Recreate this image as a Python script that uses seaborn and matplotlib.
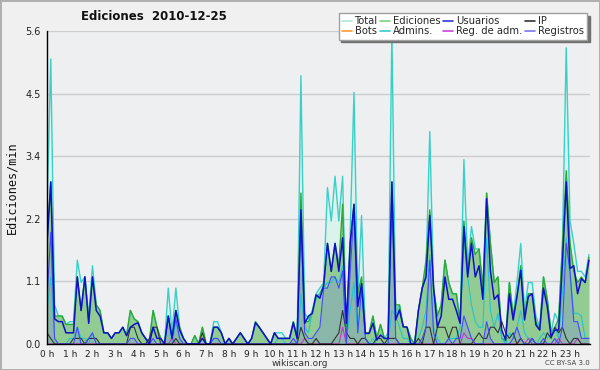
import numpy as np
import matplotlib
matplotlib.use("Agg")
import matplotlib.pyplot as plt
import seaborn as sns
from matplotlib.lines import Line2D
from matplotlib.ticker import MultipleLocator

# edits per minute, one value every 10 minutes (6 per hour, one row per hour)
total = [
    2.4, 5.1, 0.7, 0.5, 0.5, 0.35,
    0.4, 0.4, 1.5, 1.1, 1.2, 0.5,
    1.4, 0.7, 0.6, 0.2, 0.2, 0.1,
    0.2, 0.2, 0.3, 0.15, 0.6, 0.45,
    0.4, 0.2, 0.1, 0.05, 0.6, 0.3,
    0.1, 0.0, 1.0, 0.2, 1.0, 0.3,
    0.1, 0.0, 0.0, 0.15, 0.0, 0.3,
    0.0, 0.0, 0.4, 0.4, 0.2, 0.0,
    0.1, 0.0, 0.1, 0.2, 0.1, 0.0,
    0.1, 0.4, 0.3, 0.2, 0.1, 0.0,
    0.2, 0.2, 0.2, 0.1, 0.1, 0.4,
    0.1, 4.8, 0.55, 0.45, 0.6, 0.9,
    1.0, 1.1, 2.8, 2.2, 3.0, 2.2,
    3.0, 0.1, 2.0, 4.5, 0.8, 2.3,
    0.2, 0.2, 0.5, 0.1, 0.35, 0.1,
    0.2, 5.6, 0.5, 0.7, 0.3, 0.3,
    0.1, 0.0, 0.6, 1.0, 1.3, 3.8,
    1.0, 0.5, 0.7, 1.5, 1.1, 0.9,
    0.9, 0.4, 3.3, 1.4, 2.1, 1.7,
    1.7, 1.0, 2.7, 1.8, 1.1, 1.2,
    0.1, 0.1, 1.1, 0.5, 1.1, 1.8,
    0.6, 1.1, 1.1, 0.5, 0.3, 1.2,
    0.8, 0.2, 0.55, 0.4, 1.8, 5.3,
    2.2, 1.8, 1.3, 1.3, 1.2, 1.6,
]
ediciones = [
    1.8, 2.9, 0.5, 0.5, 0.5, 0.35,
    0.35, 0.35, 1.2, 0.6, 1.2, 0.4,
    1.2, 0.7, 0.6, 0.2, 0.2, 0.1,
    0.2, 0.2, 0.3, 0.15, 0.6, 0.45,
    0.4, 0.2, 0.1, 0.05, 0.6, 0.3,
    0.1, 0.0, 0.5, 0.1, 0.6, 0.3,
    0.1, 0.0, 0.0, 0.15, 0.0, 0.3,
    0.0, 0.0, 0.3, 0.3, 0.2, 0.0,
    0.1, 0.0, 0.1, 0.2, 0.1, 0.0,
    0.1, 0.4, 0.3, 0.2, 0.1, 0.0,
    0.2, 0.1, 0.1, 0.1, 0.1, 0.4,
    0.1, 2.7, 0.4, 0.4, 0.55, 0.85,
    0.9, 1.05, 1.8, 1.3, 1.8, 1.4,
    2.5, 0.1, 1.8, 2.5, 0.9, 1.2,
    0.2, 0.2, 0.5, 0.1, 0.35, 0.1,
    0.1, 2.9, 0.7, 0.7, 0.3, 0.3,
    0.1, 0.0, 0.6, 1.0, 1.5, 2.4,
    1.0, 0.5, 0.7, 1.5, 1.1, 0.9,
    0.9, 0.4, 2.2, 1.3, 1.9, 1.6,
    1.7, 1.0, 2.7, 1.8, 1.1, 1.2,
    0.1, 0.05, 1.1, 0.5, 0.85, 1.4,
    0.5, 0.9, 0.9, 0.4, 0.25, 1.2,
    0.8, 0.2, 0.3, 0.45, 1.75, 3.1,
    1.8, 1.3, 1.1, 1.2, 1.1, 1.55,
]
usuarios = [
    1.8, 2.9, 0.45, 0.4, 0.4, 0.2,
    0.2, 0.2, 1.2, 0.6, 1.2, 0.37,
    1.2, 0.6, 0.5, 0.2, 0.2, 0.1,
    0.2, 0.2, 0.3, 0.15, 0.3, 0.35,
    0.38, 0.2, 0.1, 0.0, 0.3, 0.1,
    0.1, 0.0, 0.5, 0.1, 0.6, 0.25,
    0.1, 0.0, 0.0, 0.0, 0.0, 0.1,
    0.0, 0.0, 0.3, 0.3, 0.2, 0.0,
    0.1, 0.0, 0.1, 0.2, 0.1, 0.0,
    0.1, 0.38, 0.3, 0.2, 0.1, 0.0,
    0.2, 0.1, 0.1, 0.1, 0.1, 0.38,
    0.1, 2.4, 0.37, 0.5, 0.55, 0.88,
    0.82, 1.05, 1.8, 1.3, 1.8, 1.3,
    1.9, 0.37, 1.8, 2.5, 0.67, 1.08,
    0.19, 0.19, 0.37, 0.07, 0.16, 0.1,
    0.1, 2.9, 0.43, 0.61, 0.31, 0.3,
    0.0, 0.0, 0.6, 1.0, 1.2, 2.3,
    1.0, 0.3, 0.5, 1.2, 0.8, 0.8,
    0.6, 0.37, 2.1, 1.2, 1.8, 1.2,
    1.4, 0.8, 2.6, 1.3, 0.8, 0.88,
    0.25, 0.07, 0.9, 0.43, 0.85, 1.32,
    0.43, 0.85, 0.9, 0.34, 0.25, 1.0,
    0.67, 0.13, 0.25, 0.25, 1.44, 2.9,
    1.35, 1.4, 0.9, 1.17, 1.1, 1.5,
]
registros = [
    0.8, 2.0, 0.1, 0.0, 0.0, 0.0,
    0.0, 0.0, 0.3, 0.0, 0.0, 0.1,
    0.2, 0.0, 0.0, 0.0, 0.0, 0.0,
    0.0, 0.0, 0.0, 0.0, 0.1, 0.1,
    0.0, 0.0, 0.0, 0.0, 0.1, 0.0,
    0.0, 0.0, 0.5, 0.1, 0.45, 0.1,
    0.0, 0.0, 0.0, 0.0, 0.0, 0.0,
    0.0, 0.0, 0.1, 0.1, 0.0, 0.0,
    0.0, 0.0, 0.0, 0.0, 0.0, 0.0,
    0.0, 0.0, 0.0, 0.0, 0.0, 0.0,
    0.0, 0.0, 0.0, 0.0, 0.0, 0.1,
    0.0, 2.2, 0.2, 0.1, 0.1, 0.2,
    0.3, 1.0, 1.0, 1.2, 1.2, 1.0,
    1.3, 0.0, 1.3, 2.4, 0.2, 1.0,
    0.1, 0.0, 0.0, 0.0, 0.0, 0.0,
    0.0, 2.7, 0.1, 0.0, 0.0, 0.0,
    0.0, 0.0, 0.0, 0.1, 0.3, 1.5,
    0.2, 0.0, 0.0, 0.0, 0.1, 0.0,
    0.1, 0.1, 0.5, 0.3, 0.1, 0.0,
    0.0, 0.0, 0.4, 0.1, 0.0, 0.0,
    0.0, 0.0, 0.0, 0.1, 0.3, 0.1,
    0.0, 0.0, 0.1, 0.0, 0.0, 0.1,
    0.0, 0.0, 0.1, 0.0, 0.3, 1.8,
    1.3, 0.4, 0.4, 0.1, 0.1, 0.1,
]
admins = [
    0.6, 1.2, 0.1, 0.0, 0.0, 0.0,
    0.1, 0.1, 0.3, 0.1, 0.1, 0.0,
    0.2, 0.0, 0.0, 0.0, 0.0, 0.0,
    0.0, 0.0, 0.0, 0.0, 0.0, 0.0,
    0.0, 0.0, 0.0, 0.0, 0.0, 0.0,
    0.0, 0.0, 0.5, 0.0, 0.4, 0.1,
    0.0, 0.0, 0.0, 0.0, 0.0, 0.0,
    0.0, 0.0, 0.1, 0.1, 0.0, 0.0,
    0.0, 0.0, 0.0, 0.0, 0.0, 0.0,
    0.0, 0.0, 0.0, 0.0, 0.0, 0.0,
    0.0, 0.1, 0.1, 0.0, 0.0, 0.0,
    0.0, 0.9, 0.3, 0.2, 0.6, 0.8,
    0.9, 1.0, 1.1, 1.1, 1.2, 1.1,
    1.4, 0.1, 0.6, 1.1, 0.2, 1.0,
    0.1, 0.0, 0.1, 0.0, 0.0, 0.0,
    0.0, 0.6, 0.5, 0.3, 0.1, 0.1,
    0.0, 0.0, 0.1, 0.3, 0.6, 1.6,
    0.3, 0.1, 0.0, 0.0, 0.1, 0.1,
    0.1, 0.3, 1.9, 1.2, 0.7, 0.4,
    0.3, 0.3, 1.9, 0.6, 0.3, 0.55,
    0.1, 0.0, 0.2, 0.1, 0.3, 0.6,
    0.2, 0.1, 0.1, 0.0, 0.1, 0.2,
    0.1, 0.2, 0.3, 0.1, 0.9, 1.9,
    1.2, 0.55, 0.55, 0.5, 0.1, 0.1,
]
ip = [
    0.2, 0.1, 0.0, 0.0, 0.0, 0.0,
    0.0, 0.1, 0.1, 0.1, 0.0, 0.1,
    0.1, 0.1, 0.0, 0.0, 0.0, 0.0,
    0.0, 0.0, 0.0, 0.0, 0.3, 0.3,
    0.1, 0.0, 0.0, 0.1, 0.3, 0.3,
    0.0, 0.0, 0.0, 0.0, 0.1, 0.0,
    0.0, 0.0, 0.0, 0.0, 0.0, 0.2,
    0.0, 0.0, 0.0, 0.0, 0.0, 0.0,
    0.0, 0.0, 0.0, 0.0, 0.0, 0.0,
    0.0, 0.0, 0.0, 0.0, 0.0, 0.0,
    0.0, 0.0, 0.0, 0.0, 0.0, 0.0,
    0.0, 0.3, 0.1, 0.0, 0.0, 0.1,
    0.0, 0.0, 0.0, 0.0, 0.1, 0.2,
    0.6, 0.2, 0.1, 0.1, 0.0, 0.1,
    0.1, 0.0, 0.0, 0.1, 0.1, 0.0,
    0.1, 0.1, 0.1, 0.0, 0.0, 0.0,
    0.0, 0.0, 0.1, 0.0, 0.3, 0.3,
    0.0, 0.3, 0.3, 0.3, 0.1, 0.3,
    0.3, 0.0, 0.0, 0.0, 0.0, 0.1,
    0.2, 0.1, 0.1, 0.3, 0.3, 0.2,
    0.4, 0.2, 0.1, 0.2, 0.0, 0.1,
    0.0, 0.0, 0.1, 0.0, 0.0, 0.0,
    0.2, 0.1, 0.3, 0.2, 0.3, 0.1,
    0.0, 0.1, 0.1, 0.0, 0.0, 0.0,
]
reg_adm = [
    0.0, 0.0, 0.0, 0.0, 0.0, 0.0,
    0.0, 0.0, 0.0, 0.0, 0.0, 0.0,
    0.0, 0.0, 0.0, 0.0, 0.0, 0.0,
    0.0, 0.0, 0.0, 0.0, 0.0, 0.0,
    0.0, 0.0, 0.0, 0.0, 0.0, 0.0,
    0.0, 0.0, 0.0, 0.1, 0.0, 0.0,
    0.0, 0.0, 0.0, 0.0, 0.0, 0.0,
    0.0, 0.0, 0.0, 0.0, 0.0, 0.0,
    0.0, 0.0, 0.0, 0.0, 0.0, 0.0,
    0.0, 0.0, 0.0, 0.0, 0.0, 0.0,
    0.0, 0.0, 0.0, 0.0, 0.0, 0.0,
    0.0, 0.0, 0.1, 0.0, 0.0, 0.0,
    0.0, 0.0, 0.0, 0.0, 0.0, 0.0,
    0.3, 0.0, 0.0, 0.0, 0.0, 0.0,
    0.0, 0.0, 0.0, 0.0, 0.0, 0.0,
    0.0, 0.0, 0.0, 0.0, 0.0, 0.0,
    0.0, 0.0, 0.0, 0.0, 0.0, 0.0,
    0.0, 0.0, 0.0, 0.0, 0.0, 0.0,
    0.0, 0.0, 0.2, 0.1, 0.1, 0.0,
    0.0, 0.0, 0.0, 0.0, 0.0, 0.0,
    0.0, 0.0, 0.0, 0.0, 0.0, 0.1,
    0.0, 0.1, 0.0, 0.0, 0.0, 0.0,
    0.0, 0.0, 0.0, 0.1, 0.0, 0.0,
    0.0, 0.0, 0.1, 0.0, 0.0, 0.0,
]
bots = [0.0] * 144

hour_labels = [f"{h} h" for h in range(24)]
y_ticks = [0.0, 1.12, 2.24, 3.36, 4.48, 5.6]
y_labels = ["0.0", "1.1", "2.2", "3.4", "4.5", "5.6"]

hours = np.arange(len(total)) / 6

sns.set_style("white")
plt.rcParams["font.family"] = ["DejaVu Sans"]

fig = plt.figure(figsize=(6, 3.7), dpi=100, facecolor="#f0f0f0",
                 edgecolor="#b0b0b0", linewidth=2)
ax = fig.add_axes([47 / 600, 26 / 370, 543 / 600, 313 / 370])
ax.set_facecolor("#eeeff1")

# filled areas
ax.fill_between(hours, total, color="#dcf2ed", lw=0, zorder=1)
ax.fill_between(hours, ediciones, color="#92cc92", lw=0, zorder=2)
ax.fill_between(hours, registros, color="#7070ff", alpha=0.22, lw=0, zorder=3)

# lines
sns.lineplot(x=hours, y=total, color="#38d0c8", lw=1.0, ax=ax, zorder=4)
sns.lineplot(x=hours, y=ediciones, color="#2fa82f", lw=1.0, ax=ax, zorder=4)
sns.lineplot(x=hours, y=admins, color="#22c6cc", lw=0.8, ax=ax, zorder=5)
sns.lineplot(x=hours, y=bots, color="#ff9933", lw=0.8, ax=ax, zorder=5)
sns.lineplot(x=hours, y=reg_adm, color="#cc33cc", lw=0.8, ax=ax, zorder=5)
sns.lineplot(x=hours, y=ip, color="#333333", lw=0.8, ax=ax, zorder=6)
sns.lineplot(x=hours, y=registros, color="#4848ff", lw=0.8, ax=ax, zorder=6)
sns.lineplot(x=hours, y=usuarios, color="#1010c8", lw=1.1, ax=ax, zorder=7)

ax.set_xlim(0, 543 / 22.74)
ax.set_ylim(0, 5.6)
ax.set_xlabel("")
ax.set_ylabel("")

ax.set_xticks(range(24))
ax.set_xticklabels(hour_labels, fontsize=6.5)
ax.xaxis.set_minor_locator(MultipleLocator(1 / 6))
ax.set_yticks(y_ticks)
ax.set_yticklabels(y_labels, fontsize=7)
ax.yaxis.set_minor_locator(MultipleLocator(0.28))
ax.tick_params(axis="both", which="both", direction="out", color="black",
               width=1, labelcolor="#222222", pad=0.5)
ax.tick_params(axis="x", which="major", length=4)
ax.tick_params(axis="x", which="minor", length=3.5)
ax.tick_params(axis="y", which="major", length=4)
ax.tick_params(axis="y", which="minor", length=3)

ax.yaxis.grid(True, color="#cccccc", lw=1)
ax.xaxis.grid(False)
ax.set_axisbelow(True)
for side in ["top", "right"]:
    ax.spines[side].set_visible(False)
for side in ["left", "bottom"]:
    ax.spines[side].set_color("black")
    ax.spines[side].set_linewidth(1)
    ax.spines[side].set_zorder(10)

# legend, column-major order so rows read across
legend_items = [
    ("Total", "#aee8e0"), ("Bots", "#ff9933"),
    ("Ediciones", "#7fd07f"), ("Admins.", "#33cccc"),
    ("Usuarios", "#3333dd"), ("Reg. de adm.", "#cc44dd"),
    ("IP", "#333333"), ("Registros", "#7777ee"),
]
handles = [Line2D([], [], color=c, lw=1.2) for _, c in legend_items]
labels = [n for n, _ in legend_items]
leg = ax.legend(handles, labels, ncol=4, loc="upper right",
                bbox_to_anchor=(592 / 600, 1 - 8 / 370),
                bbox_transform=fig.transFigure, fontsize=7.2, frameon=True,
                fancybox=False, shadow={"color": "#707070", "alpha": 1},
                edgecolor="#a0a0a0", facecolor="white", framealpha=1,
                handlelength=1.0, handletextpad=0.3, columnspacing=0.25,
                labelspacing=0.05, borderpad=0.3)
leg.set_zorder(20)
leg.get_frame().set_linewidth(1)

fig.text(154 / 600, 1 - 17 / 370, "Ediciones  2010-12-25", ha="center",
         va="center", fontsize=8.5, fontweight="bold", color="#111111")
fig.text(12 / 600, 1 - 188 / 370, "Ediciones/min", rotation=90, ha="center",
         va="center", fontsize=8.5, family="DejaVu Sans Mono", color="#111111")
fig.text(300 / 600, 1 - 363 / 370, "wikiscan.org", ha="center", va="center",
         fontsize=6.5, color="#333333")
fig.text(590 / 600, 1 - 363 / 370, "CC BY-SA 3.0", ha="right", va="center",
         fontsize=5, color="#444444")

fig.savefig("out.png", dpi=100, facecolor=fig.get_facecolor(),
            edgecolor=fig.get_edgecolor())
